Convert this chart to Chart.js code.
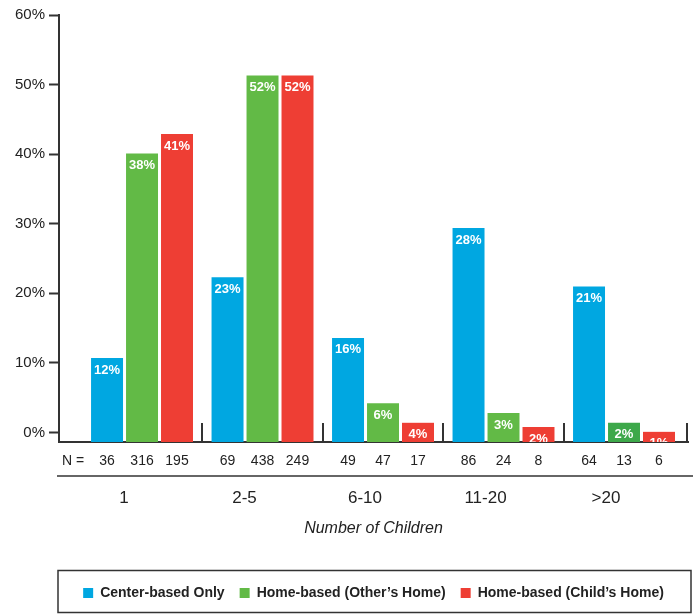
<!DOCTYPE html>
<html>
<head>
<meta charset="utf-8">
<script src="https://cdn.jsdelivr.net/npm/chart.js@4.4.1/dist/chart.umd.min.js"></script>
<style>
  html, body { margin: 0; padding: 0; background: #fff; }
  #wrap { width: 693px; height: 614px; position: relative; }
</style>
</head>
<body>
<div id="wrap"><canvas id="chart" width="693" height="614"></canvas></div>
<script>
// categories and series (bar heights, in %)
const categories = ['1', '2-5', '6-10', '11-20', '>20'];
const seriesNames = ['Center-based Only', 'Home-based (Other\u2019s Home)', 'Home-based (Child\u2019s Home)'];
const centerBased = [10.7, 22.3, 13.6, 29.4, 21.0];
const otherHome = [40.1, 51.3, 4.2, 2.8, 1.4];
const childHome = [42.9, 51.3, 1.4, 0.8, 0.1];

// printed labels inside the bars
const centerLabels = ['12%', '23%', '16%', '28%', '21%'];
const otherLabels = ['38%', '52%', '6%', '3%', '2%'];
const childLabels = ['41%', '52%', '4%', '2%', '1%'];

// sample sizes
const centerN = [36, 69, 49, 86, 64];
const otherN = [316, 438, 47, 24, 13];
const childN = [195, 249, 17, 8, 6];

const yTicks = [0, 10, 20, 30, 40, 50, 60];

const FONT = '"Liberation Sans", Arial, Helvetica, sans-serif';
const INK = '#222';
const AXIS = '#333';
const Y_MIN = -1.36;

const pctLabels = [centerLabels, otherLabels, childLabels];
const nLabels = [centerN, otherN, childN];

function points(values) {
    return values.map((v, i) => ({ x: i, y: v }));
}

const annotate = {
    id: 'annotate',
    afterDatasetsDraw(chart) {
        const { ctx, chartArea } = chart;
        ctx.save();
        ctx.beginPath();
        ctx.rect(chartArea.left, chartArea.top, chartArea.right - chartArea.left, chartArea.bottom - chartArea.top);
        ctx.clip();
        ctx.fillStyle = '#fff';
        ctx.font = 'bold 13px ' + FONT;
        ctx.textAlign = 'center';
        ctx.textBaseline = 'middle';
        pctLabels.forEach((labels, d) => {
            chart.getDatasetMeta(d).data.forEach((bar, i) => {
                ctx.fillText(labels[i], bar.x, bar.y + 12);
            });
        });
        ctx.restore();
    },
    afterDraw(chart) {
        const { ctx, chartArea } = chart;
        const x = chart.scales.x;
        ctx.save();

        // short separators between the groups
        ctx.strokeStyle = AXIS;
        ctx.lineWidth = 2;
        ctx.beginPath();
        for (let i = 0; i < categories.length - 1; i++) {
            const px = Math.round(x.getPixelForValue(i + 0.5));
            ctx.moveTo(px, chartArea.bottom);
            ctx.lineTo(px, chartArea.bottom - 19);
        }
        ctx.moveTo(chartArea.right - 1, chartArea.bottom);
        ctx.lineTo(chartArea.right - 1, chartArea.bottom - 19);
        ctx.stroke();

        // N row
        ctx.fillStyle = INK;
        ctx.font = '14px ' + FONT;
        ctx.textBaseline = 'middle';
        ctx.textAlign = 'left';
        ctx.fillText('N =', chartArea.left + 3, 461);
        ctx.textAlign = 'center';
        nLabels.forEach((ns, d) => {
            chart.getDatasetMeta(d).data.forEach((bar, i) => {
                ctx.fillText(String(ns[i]), bar.x, 461);
            });
        });

        // rule under the N row
        ctx.lineWidth = 1.5;
        ctx.beginPath();
        ctx.moveTo(chartArea.left - 2, 476);
        ctx.lineTo(chart.width, 476);
        ctx.stroke();

        // legend frame
        ctx.lineWidth = 1.5;
        ctx.strokeRect(58, 570.5, 633, 42);
        ctx.restore();
    }
};

const ctx = document.getElementById('chart').getContext('2d');

const chart = new Chart(ctx, {
    type: 'bar',
    data: {
        datasets: [{
            label: seriesNames[0],
            data: points(centerBased),
            backgroundColor: '#00A7E1',
            base: Y_MIN
        }, {
            label: seriesNames[1],
            data: points(otherHome),
            backgroundColor: c => (c.dataIndex === 4 ? '#3DA84A' : '#62BA46'),
            base: Y_MIN
        }, {
            label: seriesNames[2],
            data: points(childHome),
            backgroundColor: '#EE3E34',
            base: Y_MIN
        }]
    },
    options: {
        responsive: false,
        animation: false,
        events: [],
        categoryPercentage: 0.871,
        barPercentage: 0.914,
        borderWidth: 0,
        layout: { padding: { top: 15, right: 5, left: 0, bottom: 4 } },
        scales: {
            x: {
                type: 'linear',
                offset: false,
                min: -0.689,
                max: 4.531,
                afterBuildTicks: s => { s.ticks = categories.map((c, i) => ({ value: i })); },
                afterFit: s => { s.height = 129; },
                grid: { drawOnChartArea: false, drawTicks: false, offset: false },
                border: { display: true, color: AXIS, width: 2 },
                ticks: {
                    autoSkip: false,
                    maxRotation: 0,
                    padding: 46,
                    labelOffset: -18,
                    color: INK,
                    font: { family: FONT, size: 17 },
                    callback: v => categories[v]
                },
                title: {
                    display: true,
                    text: 'Number of Children',
                    color: INK,
                    font: { family: FONT, size: 16, style: 'italic' },
                    padding: { top: 0, bottom: 33 }
                }
            },
            y: {
                min: Y_MIN,
                max: 60,
                afterBuildTicks: s => { s.ticks = yTicks.map(v => ({ value: v })); },
                afterFit: s => { s.width = 59; },
                grid: { drawOnChartArea: false, drawTicks: true, tickLength: 10, tickWidth: 2, tickColor: AXIS },
                border: { display: true, color: AXIS, width: 2 },
                ticks: {
                    padding: 4,
                    color: INK,
                    font: { family: FONT, size: 15 },
                    callback: v => v + '%'
                }
            }
        },
        plugins: {
            legend: {
                position: 'bottom',
                fullSize: false,
                labels: {
                    boxWidth: 10,
                    boxHeight: 10,
                    padding: 15,
                    color: INK,
                    font: { family: FONT, size: 14, weight: 'bold' }
                }
            },
            tooltip: { enabled: false }
        }
    },
    plugins: [annotate]
});
</script>
</body>
</html>
